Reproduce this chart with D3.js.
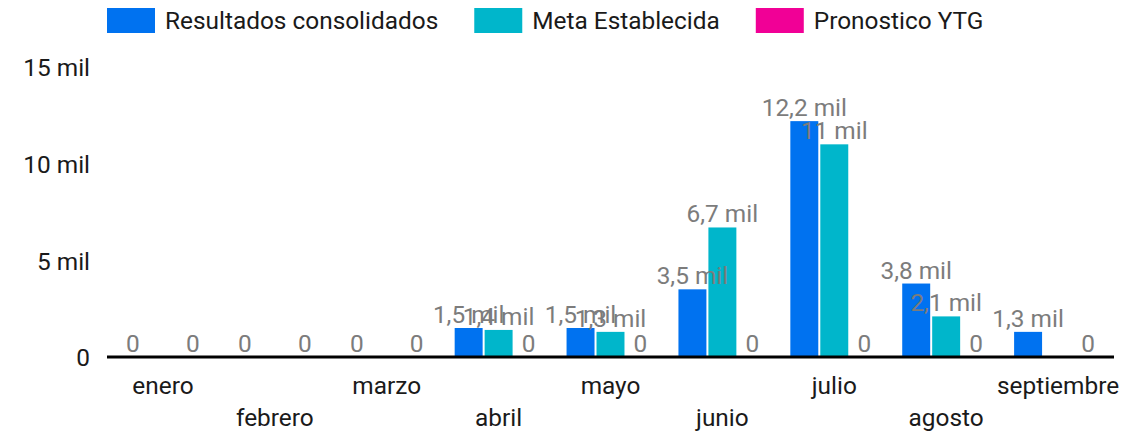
<!DOCTYPE html>
<html>
<head>
<meta charset="utf-8">
<script src="https://cdn.jsdelivr.net/npm/d3@7"></script>
<style>
  body { margin: 0; background: #fff; }
  text { font-family: Roboto, "Noto Sans", sans-serif; }
</style>
</head>
<body>
<div id="chart"></div>
<script>
// datos
const meses = ['enero', 'febrero', 'marzo', 'abril', 'mayo', 'junio', 'julio', 'agosto', 'septiembre'];
const series = ['Resultados consolidados', 'Meta Establecida', 'Pronostico YTG'];
const colores = ['#0072f0', '#00b6cb', '#f10096'];
const resultados = [0, 0, 0, 1500, 1500, 3500, 12200, 3800, 1300];
const meta = [null, null, null, 1400, 1300, 6700, 11000, 2100, null];
const pronostico = [0, 0, 0, 0, 0, 0, 0, 0, 0];
const yTicks = [0, 5000, 10000, 15000];

const valores = [resultados, meta, pronostico];

const width = 1141, height = 442;
const margin = { top: 67, right: 27, bottom: 85, left: 107 };
const fs = 24.4;

const es = d3.formatLocale({ decimal: ',', thousands: '.', grouping: [3], currency: ['', '€'] });
const fmt1 = es.format('.1f');
const etiqueta = v => {
  if (v === 0) return '0';
  let s = fmt1(v / 1000);
  s = s.replace(/,0$/, '');
  return s + ' mil';
};

const svg = d3.select('#chart').append('svg')
  .attr('width', width)
  .attr('height', height);

const x0 = d3.scaleBand()
  .domain(meses)
  .range([margin.left, width - margin.right]);

const x1 = d3.scaleBand()
  .domain(series)
  .range([12, x0.bandwidth() - 12])
  .paddingInner(2 / 30);

const y = d3.scaleLinear()
  .domain([0, 15000])
  .range([height - margin.bottom, margin.top]);

// eje y (solo etiquetas)
svg.append('g')
  .selectAll('text')
  .data(yTicks)
  .enter()
  .append('text')
  .attr('x', 90)
  .attr('y', d => y(d))
  .attr('dy', '0.38em')
  .attr('text-anchor', 'end')
  .attr('font-size', fs)
  .attr('fill', '#1a1a1a')
  .text(etiqueta);

// barras
const filas = [];
meses.forEach((m, i) => {
  series.forEach((s, j) => {
    filas.push({ mes: m, serie: s, j: j, valor: valores[j][i] });
  });
});
const conValor = filas.filter(d => d.valor !== null);

svg.append('g')
  .selectAll('rect')
  .data(conValor.filter(d => d.valor > 0))
  .enter()
  .append('rect')
  .attr('x', d => x0(d.mes) + x1(d.serie))
  .attr('y', d => y(d.valor))
  .attr('width', x1.bandwidth())
  .attr('height', d => y(0) - y(d.valor))
  .attr('fill', d => colores[d.j]);

// linea base
svg.append('line')
  .attr('x1', margin.left)
  .attr('x2', width - margin.right)
  .attr('y1', y(0))
  .attr('y2', y(0))
  .attr('stroke', '#000')
  .attr('stroke-width', 3);

// etiquetas de valor
svg.append('g')
  .selectAll('text')
  .data(conValor)
  .enter()
  .append('text')
  .attr('x', d => x0(d.mes) + x1(d.serie) + x1.bandwidth() / 2)
  .attr('y', d => y(d.valor) - 5)
  .attr('text-anchor', 'middle')
  .attr('font-size', fs)
  .attr('fill', '#7c7c7c')
  .text(d => etiqueta(d.valor));

// eje x (etiquetas alternadas)
svg.append('g')
  .selectAll('text')
  .data(meses)
  .enter()
  .append('text')
  .attr('x', d => x0(d) + x0.bandwidth() / 2)
  .attr('y', (d, i) => i % 2 === 0 ? 394 : 426)
  .attr('text-anchor', 'middle')
  .attr('font-size', fs)
  .attr('fill', '#1a1a1a')
  .text(d => d);

// leyenda
const leyenda = svg.append('g');
let lx = 107;
series.forEach((s, j) => {
  leyenda.append('rect')
    .attr('x', lx)
    .attr('y', 8)
    .attr('width', 48)
    .attr('height', 25)
    .attr('fill', colores[j]);
  const t = leyenda.append('text')
    .attr('x', lx + 58)
    .attr('y', 29)
    .attr('font-size', fs)
    .attr('fill', '#1a1a1a')
    .text(s);
  lx += 58 + t.node().getComputedTextLength() + 36;
});
</script>
</body>
</html>
